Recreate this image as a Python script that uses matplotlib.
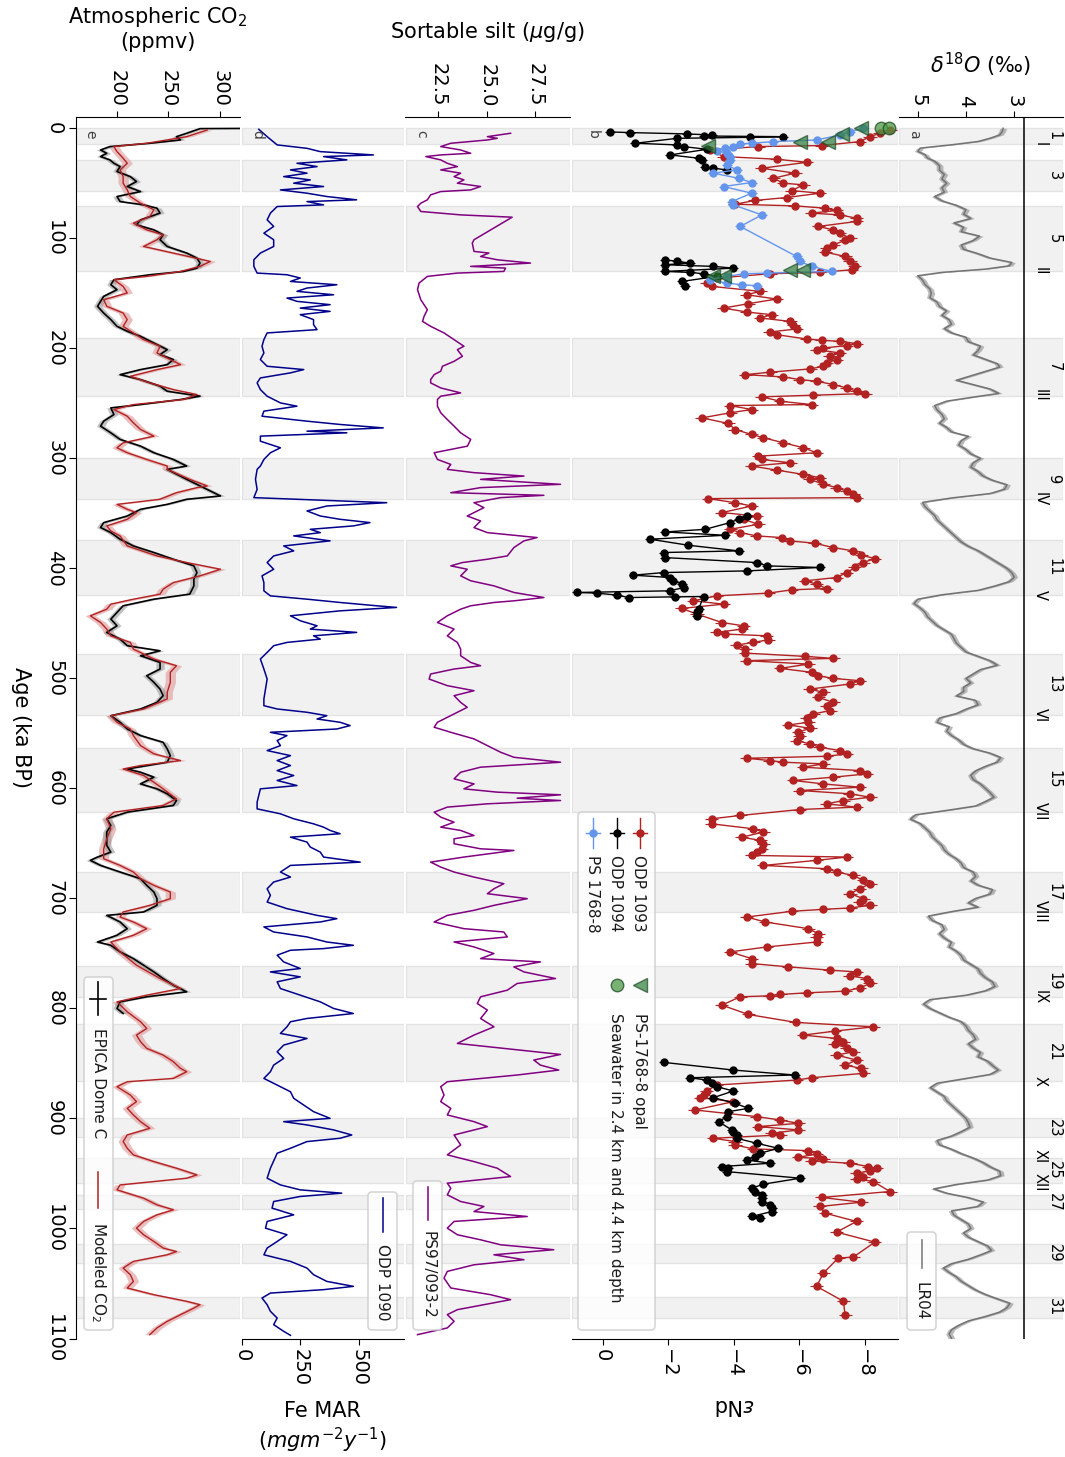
import numpy as np
import matplotlib
matplotlib.use("Agg")
import matplotlib.pyplot as plt
import matplotlib.transforms as mtransforms
from matplotlib.lines import Line2D
from matplotlib.patches import FancyBboxPatch

# ---------------------------------------------------------------- data
# interglacial bands (ka) and their labels
MIS_BANDS = [(0, 14), (29, 57), (71, 130), (191, 243), (300, 337), (374, 424),
             (478, 533), (563, 621), (676, 712), (761, 790), (814, 866),
             (900, 917), (936, 959), (970, 982), (1014, 1031), (1062, 1081)]
MIS_NUMBERS = ["1", "3", "5", "7", "9", "11", "13", "15", "17", "19", "21",
               "23", "25", "27", "29", "31"]
TERMINATIONS = [("I", 14), ("II", 130), ("III", 243), ("IV", 337), ("V", 424),
                ("VI", 533), ("VII", 621), ("VIII", 712), ("IX", 790),
                ("X", 866), ("XI", 934), ("XII", 958)]

# LR04 benthic d18O stack (age ka, permil)
LR04 = [(0, 3.23), (3, 3.25), (6, 3.3), (9, 3.5), (12, 3.75), (15, 4.3), (18, 4.95),
        (21, 5.0), (24, 4.85), (27, 4.8), (30, 4.65), (34, 4.55), (38, 4.55), (42, 4.45),
        (46, 4.5), (50, 4.4), (54, 4.5), (58, 4.45), (62, 4.65), (66, 4.5), (70, 4.2),
        (74, 4.0), (78, 4.05), (82, 3.9), (86, 4.25), (90, 4.05), (94, 4.1), (98, 3.72),
        (102, 3.85), (106, 4.1), (110, 4.05), (114, 3.75), (118, 3.5), (122, 3.05),
        (125, 3.1), (128, 3.6), (131, 4.5), (134, 5.0), (138, 4.9), (142, 4.85),
        (146, 4.75), (150, 4.72), (154, 4.75), (158, 4.6), (162, 4.55), (166, 4.4),
        (170, 4.5), (174, 4.35), (178, 4.3), (182, 4.45), (186, 4.3), (190, 4.0),
        (194, 3.95), (198, 3.7), (202, 3.75), (206, 3.85), (210, 3.6), (214, 3.35),
        (217, 3.3), (221, 3.6), (225, 3.9), (229, 4.2), (233, 3.85), (237, 3.5),
        (241, 3.32), (244, 3.8), (248, 4.4), (252, 4.65), (256, 4.6), (260, 4.5),
        (264, 4.45), (268, 4.55), (272, 4.4), (276, 4.3), (280, 3.95), (284, 4.1),
        (288, 4.15), (292, 4.0), (296, 3.9), (300, 3.7), (304, 3.85), (308, 3.9),
        (312, 3.75), (316, 3.65), (320, 3.45), (324, 3.15), (328, 3.2), (332, 3.5),
        (336, 4.3), (340, 4.9), (344, 4.85), (348, 4.75), (352, 4.65), (356, 4.6),
        (360, 4.5), (364, 4.4), (368, 4.3), (372, 4.2), (376, 4.1), (380, 3.95),
        (384, 3.75), (388, 3.6), (392, 3.45), (396, 3.3), (400, 3.15), (404, 3.05),
        (408, 3.0), (412, 3.1), (416, 3.4), (420, 3.75), (424, 4.5), (428, 5.0),
        (432, 5.08), (436, 4.95), (440, 4.85), (444, 4.8), (448, 4.7), (452, 4.6),
        (456, 4.45), (460, 4.3), (464, 4.25), (468, 4.2), (472, 4.1), (476, 4.0),
        (480, 3.75), (484, 3.5), (488, 3.35), (492, 3.7), (496, 3.85), (500, 4.0),
        (504, 3.9), (508, 4.05), (512, 4.05), (516, 4.2), (520, 3.8), (524, 3.75),
        (528, 4.0), (532, 4.2), (536, 4.55), (540, 4.6), (544, 4.35), (548, 4.4),
        (552, 4.3), (556, 4.15), (560, 4.05), (564, 3.85), (568, 3.5), (572, 3.28),
        (576, 3.35), (580, 3.6), (584, 3.8), (588, 3.9), (592, 3.85), (596, 3.7),
        (600, 3.6), (604, 3.5), (608, 3.42), (612, 3.6), (616, 3.8), (620, 4.4),
        (624, 5.05), (628, 5.15), (632, 4.95), (636, 4.85), (640, 4.75), (644, 4.7),
        (648, 4.6), (652, 4.5), (656, 4.45), (660, 4.35), (664, 4.2), (668, 4.1),
        (672, 4.05), (676, 3.85), (680, 3.8), (684, 3.9), (688, 3.75), (692, 3.45),
        (696, 3.5), (700, 3.8), (704, 3.95), (708, 3.75), (712, 4.3), (716, 4.78),
        (720, 4.7), (724, 4.5), (728, 4.45), (732, 4.55), (736, 4.45), (740, 4.3),
        (744, 4.35), (748, 4.2), (752, 4.1), (756, 4.05), (760, 3.9), (764, 3.75),
        (768, 3.7), (772, 3.6), (776, 3.45), (780, 3.4), (784, 3.6), (788, 4.0),
        (792, 4.75), (796, 4.88), (800, 4.75), (804, 4.55), (808, 4.35), (812, 4.1),
        (816, 4.0), (820, 3.95), (824, 3.85), (828, 3.8), (832, 3.95), (836, 3.85),
        (840, 3.7), (844, 3.75), (848, 3.55), (852, 3.45), (856, 3.33), (860, 3.5),
        (864, 4.05), (868, 4.6), (872, 4.74), (876, 4.6), (880, 4.45), (884, 4.4),
        (888, 4.3), (892, 4.2), (896, 4.1), (900, 4.0), (904, 3.95), (908, 3.92),
        (912, 4.1), (916, 4.3), (920, 4.6), (924, 4.55), (928, 4.3), (932, 4.1),
        (936, 3.85), (940, 3.65), (944, 3.5), (948, 3.3), (952, 3.28), (956, 3.55),
        (960, 4.2), (964, 4.67), (968, 4.4), (972, 3.95), (976, 3.64), (980, 3.75),
        (984, 4.3), (988, 4.25), (992, 4.1), (996, 3.95), (1000, 3.9), (1004, 4.05),
        (1008, 3.95), (1012, 3.75), (1016, 3.55), (1020, 3.47), (1024, 3.7),
        (1028, 3.95), (1032, 4.3), (1036, 4.47), (1040, 4.35), (1044, 4.2),
        (1048, 4.1), (1052, 3.95), (1056, 3.8), (1060, 3.6), (1064, 3.35),
        (1068, 3.09), (1072, 3.15), (1076, 3.3), (1080, 3.6), (1084, 3.95),
        (1088, 4.15), (1092, 4.3), (1096, 4.35), (1100, 4.3)]

# eNd records (age ka, eNd)
ODP1093 = [(1.5, -8.77), (4.5, -8.46), (7.6, -8.16), (12.1, -7.85), (15.7, -6.69),
           (16.6, -4.75), (19.7, -3.28), (25.7, -3.69), (28.1, -5.31), (30.9, -6.23),
           (36.3, -4.86), (40.8, -5.87), (45.4, -5.21), (49.9, -5.52), (51.4, -6.13),
           (56.6, -5.77), (59.0, -6.63), (62.9, -5.62), (65.6, -4.65), (69.0, -4.04),
           (70.5, -5.87), (72.6, -6.79), (74.7, -7.14), (77.1, -6.38), (78.7, -7.24),
           (81.7, -7.75), (84.7, -7.75), (89.2, -6.58), (92.3, -7.04), (95.3, -7.24),
           (99.8, -7.55), (101.9, -7.40), (105.9, -7.04), (108.9, -6.84), (112.5, -6.79),
           (116.5, -7.40), (121.0, -7.55), (125.5, -7.70), (128.6, -7.60), (131.0, -6.63),
           (132.2, -5.11), (136.1, -3.48), (140.7, -3.18), (143.7, -3.33), (148.2, -4.81),
           (151.3, -4.40), (155.2, -5.31), (159.4, -4.45), (163.4, -3.69), (167.0, -4.40),
           (169.4, -5.16), (172.4, -4.81), (175.5, -5.72), (178.5, -5.82), (182.4, -5.92),
           (185.1, -5.11), (187.6, -5.31), (191.5, -6.23), (192.7, -6.69), (193.6, -7.24),
           (195.7, -7.75), (197.5, -7.45), (199.7, -6.74), (201.2, -6.53), (204.2, -7.24),
           (207.2, -6.94), (210.2, -7.14), (213.3, -6.84), (216.3, -6.74), (218.7, -6.33),
           (221.7, -5.11), (223.9, -4.35), (226.0, -5.52), (228.4, -6.02), (229.9, -6.53),
           (232.9, -7.04), (236.0, -7.45), (239.0, -7.75), (241.1, -8.01), (242.6, -6.43),
           (244.1, -4.86), (248.1, -5.42), (251.1, -6.38), (252.0, -3.89), (255.6, -4.55),
           (258.6, -3.89), (263.2, -3.03), (268.3, -3.84), (273.8, -4.04), (278.3, -4.55),
           (281.3, -4.91), (285.9, -5.52), (290.4, -6.13), (294.9, -6.53), (298.0, -4.75),
           (301.0, -4.86), (304.0, -5.72), (307.0, -4.55), (310.7, -5.31), (314.6, -6.13),
           (317.6, -6.63), (319.1, -6.33), (323.6, -6.74), (326.6, -7.14), (329.7, -7.45),
           (332.7, -7.65), (335.7, -7.75), (336.6, -3.23), (340.3, -4.04), (343.3, -4.55),
           (349.3, -3.64), (352.4, -4.70), (355.4, -4.30), (359.9, -4.75), (364.5, -3.89),
           (367.5, -4.20), (370.5, -4.70), (372.0, -5.47), (375.0, -5.72), (377.2, -6.48),
           (381.1, -7.04), (384.1, -7.65), (388.0, -7.90), (391.1, -8.31), (394.7, -7.96),
           (399.2, -7.70), (403.8, -7.45), (408.3, -7.14), (411.3, -6.18), (414.4, -6.53),
           (418.3, -6.84), (419.5, -5.77), (422.5, -5.06), (425.0, -3.48), (429.5, -2.77),
           (432.5, -3.69), (436.4, -2.42), (441.6, -2.88), (449.2, -3.64), (452.2, -4.30),
           (455.2, -4.25), (458.2, -3.48), (459.7, -3.74), (461.3, -5.01), (464.9, -5.06),
           (467.3, -4.60), (469.7, -4.09), (473.4, -4.35), (477.0, -4.35), (480.0, -6.18),
           (481.8, -7.04), (483.9, -4.40), (487.0, -6.28), (490.9, -5.42), (494.5, -6.38),
           (497.6, -6.58), (500.0, -7.04), (502.1, -7.85), (505.1, -7.55), (509.7, -6.33),
           (512.7, -6.74), (517.2, -6.58), (521.8, -7.04), (524.8, -6.84), (529.3, -6.94),
           (532.3, -6.43), (536.3, -6.23), (539.9, -6.28), (542.3, -5.67), (545.3, -6.33),
           (549.0, -5.97), (552.0, -6.02), (556.5, -5.92), (559.6, -6.33), (562.6, -6.63),
           (565.6, -7.24), (568.6, -7.45), (570.8, -6.84), (572.6, -4.40), (574.7, -5.11),
           (576.2, -5.52), (577.7, -6.74), (580.7, -6.13), (583.8, -7.85), (586.8, -8.06),
           (589.8, -7.04), (592.8, -5.82), (595.9, -6.74), (598.9, -7.85), (601.9, -6.02),
           (604.9, -7.55), (608.0, -8.16), (611.0, -7.35), (614.0, -6.84), (617.0, -7.75),
           (619.2, -6.02), (624.6, -4.20), (627.6, -3.33), (632.2, -3.33), (636.7, -4.60),
           (639.7, -4.91), (644.3, -4.25), (647.3, -4.81), (650.3, -4.91), (654.9, -4.86),
           (657.9, -4.70), (660.9, -4.55), (662.4, -7.45), (665.4, -6.53), (670.0, -4.91),
           (673.0, -6.84), (676.0, -7.14), (679.1, -7.65), (683.6, -7.96), (686.6, -8.16),
           (691.2, -7.85), (695.7, -7.55), (700.2, -7.96), (703.3, -7.85), (706.3, -8.16),
           (708.7, -7.55), (709.9, -6.74), (711.7, -5.77), (716.9, -4.40), (721.4, -4.96),
           (727.5, -6.28), (732.0, -6.58), (735.0, -6.53), (739.6, -6.53), (744.1, -5.01),
           (748.6, -3.89), (754.7, -4.55), (759.2, -4.55), (762.2, -5.67), (765.2, -6.94),
           (766.8, -7.75), (770.4, -7.55), (772.8, -8.06), (777.3, -8.16), (781.3, -7.85),
           (784.3, -7.40), (785.8, -6.23), (787.3, -5.42), (788.5, -5.11), (789.4, -4.20),
           (797.0, -3.64), (805.5, -4.45), (812.7, -5.90), (816.7, -8.26), (820.6, -7.09),
           (824.2, -6.13), (827.3, -7.14), (830.3, -7.35), (832.7, -7.09), (835.7, -7.45),
           (839.4, -7.65), (842.4, -7.14), (846.9, -7.75), (851.5, -7.40), (854.5, -7.90),
           (859.0, -7.96), (863.0, -6.38), (865.1, -5.92), (869.6, -3.48), (875.0, -3.18),
           (878.7, -3.08), (881.1, -2.98), (884.7, -3.99), (892.3, -2.82), (898.3, -4.70),
           (901.4, -5.42), (904.4, -5.97), (907.4, -4.75), (910.4, -5.97), (913.5, -5.16),
           (915.0, -5.42), (918.0, -3.38), (921.0, -4.04), (924.1, -4.04), (927.7, -4.60),
           (929.2, -6.28), (932.5, -6.53), (935.2, -5.97), (936.8, -6.74), (938.6, -6.38),
           (940.7, -7.55), (943.7, -8.11), (945.2, -8.36), (947.6, -8.16), (949.8, -7.75),
           (952.8, -7.96), (954.9, -7.75), (957.3, -8.26), (966.4, -8.77), (971.8, -6.69),
           (976.1, -7.90), (980.0, -6.63), (986.1, -6.79), (993.6, -7.75), (1003.3, -7.14),
           (1012.4, -8.31), (1026.0, -7.65), (1026.9, -7.19), (1040.5, -6.74),
           (1052.6, -6.53), (1066.2, -7.35), (1078.9, -7.40)]
ODP1093_ERR = 0.2

ODP1094_SEGMENTS = [
    [(3.3, -0.23), (3.9, -0.84), (5.1, -2.57), (6.1, -3.33), (7.0, -3.08), (7.6, -5.52),
     (8.2, -4.50), (9.1, -2.27), (13.6, -1.00), (15.1, -2.27), (16.6, -2.47), (19.1, -3.18),
     (24.2, -2.06), (27.2, -2.93), (28.7, -3.03), (34.8, -3.13), (36.3, -3.38), (37.8, -3.79)],
    [(119.5, -1.91), (121.0, -2.27), (122.5, -2.67), (124.0, -1.91), (125.5, -3.38),
     (127.1, -3.99), (130.1, -1.91), (131.0, -2.67), (132.2, -3.08), (134.6, -3.48),
     (139.2, -2.42), (143.7, -2.52)],
    [(352.4, -4.40), (355.4, -4.15), (358.4, -3.89), (364.5, -3.13), (366.9, -1.91),
     (369.9, -3.74), (373.5, -1.45), (379.0, -2.62), (384.1, -4.15), (385.6, -1.86),
     (390.2, -1.91), (394.7, -4.70), (397.7, -5.01), (399.2, -6.63), (402.3, -4.40),
     (403.8, -1.86), (406.2, -0.94), (408.3, -2.06), (411.3, -2.16), (414.4, -2.42),
     (417.4, -2.47), (420.4, -2.06), (421.9, 0.78), (422.5, 0.17), (424.3, -0.44),
     (426.5, -0.79), (425.9, -2.21), (425.6, -3.08), (437.1, -2.93), (440.1, -2.88),
     (443.1, -2.88)],
    [(849.0, -1.86), (856.0, -3.99), (860.5, -5.87), (863.0, -2.67), (865.1, -3.18),
     (868.1, -3.33), (871.1, -3.48), (875.0, -3.99), (881.1, -3.38), (886.2, -4.04),
     (890.8, -4.45), (893.8, -3.84), (898.3, -3.79), (902.9, -3.54), (910.4, -3.94),
     (912.0, -3.99), (915.0, -4.09), (918.0, -4.09), (922.5, -4.70), (927.1, -5.36),
     (931.6, -4.81), (934.6, -4.65), (937.7, -4.40), (940.7, -5.11), (943.7, -3.64),
     (945.2, -3.84), (948.3, -3.79), (954.3, -6.03), (959.7, -4.91), (963.4, -4.55),
     (966.4, -4.65), (969.4, -4.86), (972.5, -4.86), (975.5, -4.86), (978.5, -5.11),
     (981.5, -5.16), (984.6, -5.16), (989.1, -4.55), (990.6, -4.81)],
]
ODP1094_ERR = 0.15

PS1768 = [(0.0, -7.96), (3.0, -7.55), (6.1, -7.24), (10.6, -6.53), (12.1, -5.21),
          (13.6, -4.55), (14.2, -4.20), (16.6, -3.99), (18.2, -3.74), (20.3, -3.48),
          (22.7, -3.79), (25.7, -3.89), (28.7, -3.89), (33.3, -3.79), (37.8, -4.09),
          (40.8, -3.38), (45.4, -4.15), (49.3, -4.55), (52.9, -3.69), (59.0, -4.55),
          (66.6, -3.94), (69.6, -3.99), (78.7, -4.86), (89.2, -4.20), (116.5, -5.92),
          (121.0, -6.02), (125.5, -6.38), (130.1, -6.99), (131.6, -5.01), (132.2, -4.30),
          (134.6, -3.79), (137.6, -3.28), (140.7, -3.79), (142.2, -4.25), (143.0, -4.70)]
PS1768_ERR = 0.15

OPAL = [(0.0, -7.90), (5.1, -7.30), (12.1, -6.89), (12.6, -6.02), (15.7, -3.23),
        (128.6, -6.13), (129.0, -5.72), (134.0, -3.69), (134.6, -3.38)]
SEAWATER = [(0.0, -8.50), (0.0, -8.75)]

# sortable silt PS97/093-2 (age ka, um)
SILT = [(4.5, 26.23), (7.6, 25.03), (9.1, 25.54), (10.6, 25.03), (13.6, 23.14), (16.6, 22.62),
        (19.7, 23.65), (22.7, 24.17), (24.2, 22.62), (25.7, 21.85), (28.7, 22.62), (31.8, 22.96),
        (34.8, 23.48), (37.8, 22.62), (40.8, 23.65), (43.9, 23.31), (46.9, 23.82), (49.9, 23.48),
        (52.9, 24.68), (56.0, 24.17), (57.5, 22.62), (60.5, 22.10), (65.0, 21.93), (68.1, 21.59),
        (71.1, 21.42), (75.6, 21.59), (78.7, 23.65), (80.8, 26.31), (92.3, 25.20), (101.3, 24.34),
        (104.4, 24.25), (111.9, 24.34), (113.4, 25.11), (116.5, 24.68), (119.5, 25.54),
        (122.5, 27.26), (125.5, 24.17), (127.1, 25.97), (130.1, 25.88), (131.6, 23.48),
        (134.6, 21.93), (140.7, 21.50), (146.7, 21.42), (155.8, 21.59), (164.9, 21.93),
        (170.9, 21.76), (175.5, 21.68), (180.0, 22.10), (186.0, 22.79), (192.1, 23.31),
        (198.1, 23.82), (201.2, 23.48), (207.2, 23.74), (211.8, 23.31), (216.3, 22.71),
        (220.8, 22.62), (223.9, 22.28), (228.4, 22.10), (231.4, 22.10), (236.0, 22.62),
        (240.5, 23.65), (243.5, 22.62), (246.5, 22.45), (252.6, 22.45), (258.6, 22.62),
        (264.7, 22.96), (270.7, 23.31), (276.8, 23.65), (282.8, 24.17), (288.9, 24.00),
        (294.9, 22.28), (301.0, 22.45), (305.5, 23.14), (310.0, 22.96), (313.0, 24.34),
        (316.1, 26.92), (319.1, 24.68), (322.1, 27.43), (323.6, 28.81), (326.6, 24.68),
        (331.2, 23.14), (333.6, 27.95), (335.7, 25.71), (340.3, 24.34), (344.8, 24.85),
        (349.3, 24.34), (352.4, 23.99), (356.9, 24.68), (362.9, 24.34), (367.5, 25.03),
        (372.0, 27.60), (375.0, 26.92), (381.1, 26.40), (388.7, 26.06), (391.7, 25.03),
        (394.7, 23.74), (397.7, 23.14), (400.8, 23.99), (406.8, 23.65), (411.3, 24.17),
        (415.9, 25.37), (421.9, 26.40), (426.5, 27.95), (429.5, 26.40), (431.0, 25.37),
        (434.0, 24.17), (437.1, 23.65), (443.1, 22.96), (449.2, 22.45), (455.2, 23.31),
        (461.3, 22.96), (467.3, 23.48), (473.4, 23.65), (479.4, 23.65), (485.5, 24.17),
        (488.5, 24.68), (491.5, 23.31), (496.0, 22.10), (500.6, 22.02), (506.6, 22.96),
        (511.2, 24.34), (515.7, 23.31), (521.8, 23.65), (526.3, 23.99), (532.3, 23.31),
        (539.9, 22.45), (544.4, 22.28), (549.0, 23.14), (555.0, 24.34), (561.1, 25.03),
        (567.1, 25.71), (571.7, 26.40), (576.2, 28.81), (580.7, 24.68), (585.3, 23.65),
        (591.3, 23.31), (595.9, 24.34), (600.4, 23.82), (603.4, 25.54), (605.8, 28.81),
        (608.9, 26.57), (611.0, 28.81), (614.0, 25.03), (617.0, 22.96), (621.6, 22.28),
        (626.1, 22.62), (630.7, 23.31), (635.2, 22.62), (638.2, 23.65), (642.8, 24.34),
        (645.8, 23.31), (650.3, 23.31), (654.9, 24.68), (656.4, 26.40), (662.4, 23.82),
        (667.0, 22.10), (671.5, 22.62), (676.0, 23.31), (680.6, 24.34), (686.6, 25.88),
        (691.2, 25.37), (695.7, 25.03), (700.2, 27.09), (706.3, 25.37), (710.8, 24.34),
        (715.4, 22.96), (721.4, 22.28), (727.5, 23.82), (730.5, 25.88), (735.0, 26.06),
        (739.6, 23.31), (744.1, 24.34), (750.1, 25.37), (754.7, 24.68), (757.7, 27.77),
        (762.2, 26.40), (766.8, 26.92), (772.8, 28.55), (777.3, 26.57), (783.4, 26.06),
        (789.4, 24.68), (795.5, 24.51), (801.5, 25.03), (809.1, 24.68), (816.7, 25.37),
        (824.2, 24.34), (831.8, 23.48), (836.3, 25.88), (841.8, 28.81), (846.9, 27.43),
        (851.5, 27.77), (856.0, 28.72), (860.5, 26.57), (866.6, 22.96), (871.1, 22.62),
        (878.7, 22.79), (884.7, 22.62), (890.8, 23.14), (896.8, 22.96), (902.9, 24.34),
        (907.4, 25.03), (915.0, 23.31), (924.1, 23.65), (933.1, 22.96), (939.2, 24.34),
        (945.2, 25.54), (952.8, 26.23), (958.8, 22.96), (963.4, 23.14), (969.4, 22.96),
        (975.5, 23.65), (980.0, 24.85), (984.6, 24.34), (989.1, 27.09), (993.6, 23.31),
        (999.7, 22.96), (1005.7, 23.48), (1010.3, 24.68), (1014.8, 25.71), (1019.3, 28.46),
        (1023.9, 25.37), (1028.4, 26.92), (1033.0, 24.34), (1039.0, 22.96), (1045.1, 22.79),
        (1054.1, 23.14), (1060.2, 25.20), (1064.7, 26.23), (1069.3, 24.85), (1073.8, 23.48),
        (1078.3, 22.96), (1084.4, 23.31), (1090.4, 22.96), (1096.5, 21.42)]

# Fe mass accumulation rate ODP 1090 (age ka, mg m-2 yr-1)
FE_MAR = [(0.9, 71), (7.6, 107), (15.1, 150), (18.2, 278), (21.2, 335), (24.2, 563),
          (25.7, 349), (28.7, 449), (31.8, 235), (34.8, 321), (37.8, 207), (40.8, 278),
          (43.9, 178), (46.9, 292), (49.9, 221), (52.9, 349), (56.0, 164), (59.0, 278),
          (62.0, 363), (65.0, 491), (66.6, 278), (69.6, 349), (71.1, 150), (77.1, 121),
          (83.2, 107), (89.2, 135), (95.3, 93), (101.3, 135), (107.4, 135), (113.4, 78),
          (119.5, 50), (125.5, 50), (131.6, 64), (133.1, 192), (136.1, 249), (139.2, 207),
          (142.2, 406), (145.2, 278), (148.2, 235), (151.3, 392), (154.3, 192), (157.3, 235),
          (160.3, 377), (163.4, 249), (166.4, 377), (169.4, 249), (173.9, 306), (178.5, 306),
          (183.0, 321), (186.0, 107), (192.1, 93), (198.1, 85), (204.2, 93), (210.2, 78),
          (216.3, 107), (219.3, 264), (222.3, 207), (226.9, 78), (231.4, 64), (237.5, 78),
          (243.5, 107), (249.6, 164), (252.6, 235), (257.1, 93), (261.7, 85), (266.2, 278),
          (269.2, 420), (272.3, 605), (275.3, 278), (276.8, 449), (279.8, 78), (284.4, 78),
          (290.4, 164), (294.9, 121), (301.0, 93), (307.0, 78), (310.0, 64), (319.1, 57),
          (328.2, 64), (335.7, 50), (340.3, 620), (343.3, 363), (347.8, 278), (352.4, 335),
          (355.4, 420), (358.4, 548), (361.4, 477), (364.5, 292), (367.5, 335), (370.5, 221),
          (375.0, 377), (379.6, 178), (384.1, 221), (388.7, 135), (394.7, 107), (400.8, 135),
          (406.8, 85), (412.9, 93), (420.4, 93), (425.0, 121), (428.0, 278), (431.0, 420),
          (434.0, 577), (435.5, 662), (438.6, 420), (443.1, 207), (447.6, 249), (452.2, 321),
          (455.2, 292), (458.2, 491), (461.3, 306), (464.3, 335), (467.3, 192), (470.3, 135),
          (474.9, 114), (482.4, 78), (491.5, 93), (500.6, 107), (509.7, 100), (518.7, 93),
          (524.8, 93), (527.8, 150), (530.8, 278), (533.9, 363), (536.9, 321), (539.9, 420),
          (542.9, 463), (546.0, 406), (549.0, 121), (552.0, 192), (556.5, 150), (561.1, 164),
          (565.6, 107), (570.2, 207), (574.7, 150), (579.2, 207), (583.8, 150), (588.3, 221),
          (592.8, 150), (597.4, 235), (600.4, 78), (606.5, 71), (612.5, 64), (618.6, 64),
          (623.1, 164), (627.6, 221), (632.2, 306), (635.2, 349), (638.2, 377), (641.2, 420),
          (644.3, 207), (648.8, 278), (653.3, 292), (657.9, 335), (662.4, 349), (667.0, 506),
          (670.0, 207), (676.0, 164), (680.6, 207), (685.1, 135), (691.2, 107), (697.2, 121),
          (703.3, 107), (709.3, 192), (715.4, 321), (718.4, 406), (721.4, 335), (725.9, 93),
          (730.5, 135), (735.0, 278), (739.6, 363), (742.6, 477), (745.6, 349), (747.1, 207),
          (751.6, 150), (757.7, 178), (763.7, 249), (766.8, 121), (771.3, 249), (775.8, 150),
          (781.9, 164), (787.9, 249), (794.0, 335), (800.0, 392), (804.6, 477), (809.1, 278),
          (812.1, 207), (816.7, 192), (822.7, 164), (827.3, 278), (833.3, 178), (839.4, 150),
          (845.4, 178), (851.5, 135), (857.5, 121), (863.6, 93), (869.6, 150), (875.7, 207),
          (881.7, 221), (887.8, 264), (893.8, 306), (899.9, 377), (902.9, 178), (905.9, 278),
          (910.4, 392), (915.0, 470), (918.0, 420), (921.0, 278), (927.1, 207), (931.6, 150),
          (945.2, 121), (954.3, 107), (960.4, 164), (964.9, 249), (967.9, 427), (970.9, 249),
          (975.5, 135), (981.5, 128), (987.6, 221), (993.6, 107), (999.7, 100), (1005.7, 192),
          (1011.8, 150), (1017.8, 107), (1023.9, 93), (1029.9, 207), (1036.0, 278),
          (1042.0, 306), (1048.1, 363), (1052.6, 477), (1055.6, 349), (1058.7, 121),
          (1063.2, 85), (1069.3, 107), (1075.3, 121), (1081.4, 150), (1087.4, 135),
          (1093.5, 178), (1097.1, 207)]

# atmospheric CO2 (age ka, ppmv)
EPICA = [(-0.05, 368), (0.3, 281), (4.5, 268), (7.6, 258), (10.6, 262), (13.6, 232),
         (16.6, 193), (19.7, 184), (22.7, 190), (25.7, 184), (28.7, 193), (31.8, 197),
         (34.8, 203), (39.3, 200), (43.9, 213), (48.4, 219), (52.9, 210), (57.5, 223),
         (62.0, 200), (66.6, 203), (69.6, 226), (72.6, 239), (77.1, 242), (83.2, 223),
         (87.7, 219), (92.3, 236), (96.8, 245), (101.3, 242), (107.4, 249), (113.4, 268),
         (118.0, 278), (122.5, 281), (127.1, 278), (130.1, 265), (133.1, 232), (137.6, 197),
         (142.2, 194), (146.7, 200), (152.8, 187), (157.3, 184), (161.8, 181), (167.9, 187),
         (173.9, 194), (180.0, 200), (184.5, 210), (189.1, 223), (195.1, 236), (201.2, 249),
         (205.7, 242), (210.2, 255), (214.8, 249), (219.3, 223), (223.9, 203), (228.4, 223),
         (234.4, 242), (239.0, 249), (243.5, 281), (246.5, 262), (251.1, 223), (254.1, 194),
         (260.2, 197), (266.2, 187), (270.7, 184), (276.8, 194), (282.8, 203), (288.9, 223),
         (294.9, 236), (301.0, 255), (307.0, 268), (310.0, 249), (319.1, 268), (328.2, 288),
         (334.2, 301), (337.2, 268), (341.8, 249), (346.3, 223), (352.4, 210), (358.4, 187),
         (362.9, 184), (367.5, 194), (373.5, 203), (379.6, 216), (385.6, 236), (391.7, 255),
         (397.7, 275), (403.8, 278), (409.8, 275), (415.9, 275), (423.4, 271), (428.0, 236),
         (434.0, 206), (440.1, 200), (446.1, 194), (452.2, 200), (458.2, 190), (464.3, 203),
         (470.3, 210), (474.9, 242), (479.4, 223), (485.5, 242), (491.5, 242), (497.6, 229),
         (503.6, 236), (509.7, 242), (515.7, 245), (521.8, 239), (527.8, 223), (533.9, 194),
         (539.9, 203), (546.0, 210), (552.0, 223), (558.1, 245), (564.1, 249), (570.2, 252),
         (576.2, 249), (582.3, 210), (585.3, 223), (589.8, 236), (595.9, 223), (600.4, 239),
         (604.9, 249), (611.0, 258), (615.5, 255), (621.6, 210), (627.6, 190), (633.7, 194),
         (639.7, 190), (645.8, 190), (651.8, 190), (657.9, 194), (662.4, 181), (665.4, 174),
         (670.0, 184), (676.0, 203), (682.1, 223), (688.1, 229), (694.2, 236), (700.2, 239),
         (706.3, 239), (712.3, 226), (715.4, 190), (721.4, 203), (727.5, 210), (733.5, 200),
         (739.6, 181), (742.6, 194), (748.6, 203), (754.7, 216), (760.7, 226), (766.8, 236),
         (772.8, 245), (778.9, 255), (784.9, 268), (789.4, 229), (794.0, 203), (800.0, 200),
         (804.6, 206)]
EPICA_ERR = 4

MODELED_CO2 = [(1.5, 288), (7.6, 268), (13.6, 229), (16.6, 197), (21.2, 200), (27.2, 206),
               (31.8, 210), (37.8, 203), (43.9, 206), (49.9, 206), (56.0, 210), (62.0, 213),
               (68.1, 223), (74.1, 236), (80.2, 232), (86.2, 216), (92.3, 229), (96.8, 245),
               (101.3, 239), (107.4, 226), (113.4, 255), (121.0, 291), (125.5, 281),
               (130.1, 262), (134.6, 229), (137.6, 197), (143.7, 206), (149.7, 210),
               (155.8, 187), (161.8, 190), (167.9, 206), (173.9, 210), (180.0, 206),
               (186.0, 216), (192.1, 226), (198.1, 242), (204.2, 239), (210.2, 252),
               (214.8, 262), (219.3, 239), (225.4, 213), (231.4, 232), (237.5, 255),
               (242.0, 278), (246.5, 265), (251.1, 216), (255.6, 197), (261.7, 210),
               (267.7, 216), (273.8, 223), (279.8, 236), (285.9, 206), (290.4, 200),
               (294.9, 210), (301.0, 229), (307.0, 249), (310.0, 249), (319.1, 271),
               (325.1, 288), (326.6, 278), (331.2, 258), (337.2, 242), (341.8, 200),
               (346.3, 210), (349.3, 219), (355.4, 210), (361.4, 190), (366.0, 194),
               (370.5, 203), (379.6, 210), (388.7, 239), (394.7, 268), (400.8, 301),
               (406.8, 281), (412.9, 255), (418.9, 245), (423.4, 242), (428.0, 216),
               (432.5, 194), (437.1, 190), (443.1, 174), (449.2, 184), (455.2, 190),
               (461.3, 194), (467.3, 213), (473.4, 216), (482.4, 236), (488.5, 258),
               (494.5, 252), (503.6, 252), (512.7, 249), (518.7, 249), (527.8, 226),
               (533.9, 194), (539.9, 200), (546.0, 213), (552.0, 216), (561.1, 223),
               (568.6, 236), (574.7, 262), (579.2, 223), (582.3, 206), (588.3, 226),
               (594.4, 236), (600.4, 245), (609.5, 258), (615.5, 245), (621.6, 197),
               (627.6, 190), (636.7, 194), (645.8, 190), (654.9, 187), (663.9, 187),
               (670.0, 203), (676.0, 216), (682.1, 223), (688.1, 236), (694.2, 252),
               (700.2, 252), (706.3, 232), (712.3, 206), (716.9, 203), (721.4, 216),
               (727.5, 229), (733.5, 216), (739.6, 194), (748.6, 203), (760.7, 219),
               (772.8, 242), (781.9, 262), (787.9, 229), (794.0, 200), (803.1, 210),
               (812.1, 223), (818.2, 229), (824.2, 219), (830.3, 223), (836.3, 229),
               (842.4, 245), (848.4, 255), (854.5, 262), (857.5, 268), (863.6, 255),
               (866.6, 210), (871.1, 200), (878.7, 213), (884.7, 219), (890.8, 210),
               (896.8, 216), (902.9, 223), (908.9, 232), (915.0, 210), (921.0, 206),
               (927.1, 210), (933.1, 216), (939.2, 236), (945.2, 258), (951.3, 278),
               (954.3, 268), (960.4, 203), (964.9, 200), (972.5, 226), (978.5, 239),
               (983.0, 255), (987.6, 239), (993.6, 226), (999.7, 219), (1005.7, 226),
               (1011.8, 236), (1017.8, 245), (1020.9, 258), (1023.9, 249), (1029.9, 216),
               (1036.0, 206), (1042.0, 213), (1048.1, 216), (1054.1, 210), (1060.2, 236),
               (1066.2, 268), (1069.3, 281), (1072.3, 275), (1078.3, 262), (1084.4, 249),
               (1090.4, 239), (1096.5, 232)]
MODELED_ERR = 5


def cols(pairs):
    arr = np.array(pairs, dtype=float)
    return arr[:, 0], arr[:, 1]


# ---------------------------------------------------------------- layout
W, H = 1065, 1457
TOP, BOTTOM = 117.3, 1338.5
plt.rcParams['font.family'] = 'DejaVu Sans'

fig = plt.figure(figsize=(W / 100, H / 100), dpi=100)


def add_panel(x0, x1):
    return fig.add_axes([x0 / W, 1 - BOTTOM / H, (x1 - x0) / W, (BOTTOM - TOP) / H])


ax_e = add_panel(76, 240)
ax_d = add_panel(241.5, 404)
ax_c = add_panel(405.5, 570)
ax_b = add_panel(571.5, 897.5)
ax_a = add_panel(899, 1063)

for ax in (ax_a, ax_b, ax_c, ax_d, ax_e):
    ax.set_ylim(1100, -10)
    for a0, a1 in MIS_BANDS:
        ax.axhspan(a0, a1, facecolor='#f1f1f1', edgecolor='#e3e3e3', lw=1, zorder=0)
    for s in ax.spines.values():
        s.set_visible(False)
    ax.set_yticks([])
    ax.tick_params(axis='x', labelrotation=-90, labelsize=14, length=4)

# panel a: LR04
age, val = cols(LR04)
ax_a.fill_betweenx(age, val - 0.07, val + 0.07, color='0.55', alpha=0.6, lw=0, zorder=2)
ax_a.plot(val, age, color='0.45', lw=1.1, zorder=3)
ax_a.axvline(2.8, color='black', lw=1.1)
ax_a.set_xlim(5.39, 1.99)
ax_a.xaxis.tick_top()
ax_a.set_xticks([5, 4, 3])
ax_a.spines['top'].set_visible(True)
ax_a.set_xlabel(r'$\delta^{18}O$ (‰)', fontsize=15)
ax_a.xaxis.set_label_position('top')
ax_a.xaxis.label.set_va('center')
ax_a.xaxis.set_label_coords(0.5, 1.0428)

mis_tr = mtransforms.blended_transform_factory(ax_a.transAxes, ax_a.transData)
for (a0, a1), num in zip(MIS_BANDS, MIS_NUMBERS):
    ax_a.text(0.945, (a0 + a1) / 2, num, transform=mis_tr, rotation=-90,
              ha='center', va='center', fontsize=10.5)
for name, a in TERMINATIONS:
    ax_a.text(0.86, a, name, transform=mis_tr, rotation=-90,
              ha='center', va='center', fontsize=10.5)

# panel b: eNd
age, val = cols(ODP1093)
ax_b.errorbar(val, age, xerr=ODP1093_ERR, fmt='-o', color='firebrick', ms=5,
              lw=1.0, elinewidth=0.8, capsize=0, zorder=3)
for seg in ODP1094_SEGMENTS:
    age, val = cols(seg)
    ax_b.errorbar(val, age, xerr=ODP1094_ERR, fmt='-o', color='black', ms=5,
                  lw=1.0, elinewidth=0.8, capsize=0, zorder=4)
age, val = cols(PS1768)
ax_b.errorbar(val, age, xerr=PS1768_ERR, fmt='-o', color='cornflowerblue', ms=5,
              lw=1.0, elinewidth=0.8, capsize=0, zorder=5)
age, val = cols(OPAL)
ax_b.plot(val, age, ls='none', marker='<', ms=10, mfc='#2f7d3c', mec='#1b4a22',
          alpha=0.7, zorder=6)
age, val = cols(SEAWATER)
ax_b.plot(val, age, ls='none', marker='o', ms=9, mfc='#4f9a45', mec='#1b4a22',
          alpha=0.75, zorder=6)
ax_b.set_xlim(0.95, -9.0)
ax_b.set_xticks([0, -2, -4, -6, -8])
ax_b.spines['bottom'].set_visible(True)
ax_b.set_xlabel(r'$\varepsilon$Nd', fontsize=15, rotation=180)
ax_b.xaxis.label.set_va('center')
ax_b.xaxis.set_label_coords(0.5, -0.0545)

# panel c: sortable silt
age, val = cols(SILT)
ax_c.plot(val, age, color='purple', lw=1.1)
ax_c.set_xlim(20.8, 29.3)
ax_c.xaxis.tick_top()
ax_c.set_xticks([22.5, 25.0, 27.5])
ax_c.spines['top'].set_visible(True)
ax_c.set_xlabel(r'Sortable silt ($\mu$g/g)', fontsize=15)
ax_c.xaxis.set_label_position('top')
ax_c.xaxis.label.set_va('center')
ax_c.xaxis.set_label_coords(0.5, 1.0698)

# panel d: Fe MAR
age, val = cols(FE_MAR)
ax_d.plot(val, age, color='darkblue', lw=1.1)
ax_d.set_xlim(-3, 694)
ax_d.set_xticks([0, 250, 500])
ax_d.spines['bottom'].set_visible(True)
ax_d.set_xlabel('Fe MAR\n' + r'$(mgm^{-2}y^{-1})$', fontsize=15)
ax_d.xaxis.label.set_va('center')
ax_d.xaxis.set_label_coords(0.5, -0.0733)

# panel e: CO2
age, val = cols(MODELED_CO2)
ax_e.fill_betweenx(age, val - MODELED_ERR, val + MODELED_ERR, color='#e3a9a9',
                   alpha=0.75, lw=0, zorder=2)
ax_e.plot(val, age, color='firebrick', lw=1.0, zorder=4)
age, val = cols(EPICA)
ax_e.fill_betweenx(age, val - EPICA_ERR, val + EPICA_ERR, color='0.6', alpha=0.6,
                   lw=0, zorder=2)
ax_e.plot(val, age, color='black', lw=1.2, zorder=3)
ax_e.set_xlim(160, 320)
ax_e.xaxis.tick_top()
ax_e.set_xticks([200, 250, 300])
ax_e.spines['top'].set_visible(True)
ax_e.spines['left'].set_visible(True)
ax_e.set_xlabel('Atmospheric CO$_2$\n(ppmv)', fontsize=15)
ax_e.xaxis.set_label_position('top')
ax_e.xaxis.label.set_va('center')
ax_e.xaxis.set_label_coords(0.5, 1.0727)
age_ticks = list(range(0, 1101, 100))
ax_e.set_yticks(age_ticks, labels=[str(t) for t in age_ticks], rotation=-90,
                va='center', fontsize=14)
ax_e.tick_params(axis='y', length=5)
ax_e.set_ylabel('Age (ka BP)', fontsize=15, rotation=-90, va='center', ha='center')
ax_e.yaxis.set_label_coords(-0.335, 0.5)


# ---------------------------------------------------------------- legends (rotated)
def inch(x, y):
    return x / 100, (H - y) / 100


def legend_frame(x0, y0, x1, y1):
    fig.add_artist(FancyBboxPatch(inch(x0, y1), (x1 - x0) / 100, (y1 - y0) / 100,
                                  boxstyle='round,pad=0,rounding_size=0.04',
                                  transform=fig.dpi_scale_trans, facecolor='white',
                                  edgecolor='0.8', lw=1.2, alpha=0.8, zorder=10))


def legend_handle(x, y0, y1, color, lw=1.0, bar=0, marker=None, ms=5):
    xs, ys = zip(inch(x, y0), inch(x, y1))
    fig.add_artist(Line2D(xs, ys, transform=fig.dpi_scale_trans, color=color, lw=lw, zorder=11))
    ym = (y0 + y1) / 2
    if bar:
        xs, ys = zip(inch(x - bar, ym), inch(x + bar, ym))
        fig.add_artist(Line2D(xs, ys, transform=fig.dpi_scale_trans, color=color, lw=lw, zorder=11))
    if marker:
        mx, my = inch(x, ym)
        fig.add_artist(Line2D([mx], [my], transform=fig.dpi_scale_trans, ls='none',
                              marker=marker, color=color, ms=ms, zorder=11))


def legend_marker(x, y, marker, ms, fc, ec, alpha):
    mx, my = inch(x, y)
    fig.add_artist(Line2D([mx], [my], transform=fig.dpi_scale_trans, ls='none', marker=marker,
                          ms=ms, mfc=fc, mec=ec, alpha=alpha, zorder=11))


def legend_text(x, y, s):
    fig.text(*inch(x, y), s, transform=fig.dpi_scale_trans, rotation=-90,
             ha='center', va='top', fontsize=11, color='0.1', zorder=12)


# panel a
legend_frame(907, 1232, 936, 1330)
legend_handle(921.5, 1240, 1268, '0.5', lw=1.2)
legend_text(921.5, 1282, 'LR04')

# panel b
legend_frame(578, 812, 655, 1330)
legend_handle(640, 818, 848, 'firebrick', bar=7, marker='o')
legend_handle(616.5, 818, 848, 'black', bar=7, marker='o')
legend_handle(593, 818, 848, 'cornflowerblue', bar=7, marker='o')
legend_text(639, 855, 'ODP 1093')
legend_text(615.5, 855, 'ODP 1094')
legend_text(592, 855, 'PS 1768-8')
legend_marker(640, 985, '<', 10, '#2f7d3c', '#1b4a22', 0.7)
legend_marker(616.5, 985, 'o', 9, '#4f9a45', '#1b4a22', 0.75)
legend_text(639, 1013, 'PS-1768-8 opal')
legend_text(615.5, 1013, 'Seawater in 2.4 km and 4.4 km depth')

# panel c
legend_frame(413, 1181, 442, 1330)
legend_handle(428, 1187, 1220, 'purple', lw=1.1)
legend_text(428, 1231, 'PS97/093-2')

# panel d
legend_frame(368, 1192, 397, 1330)
legend_handle(383, 1198, 1232, 'darkblue', lw=1.1)
legend_text(383, 1244, 'ODP 1090')

# panel e
legend_frame(84, 977, 113, 1330)
legend_handle(98, 982, 1015, 'black', lw=1.2, bar=8)
legend_text(98, 1028, 'EPICA Dome C')
legend_handle(98, 1172, 1208, 'firebrick', lw=1.1)
legend_text(98, 1222, 'Modeled CO$_2$')

# panel letters
for letter, x in (('a', 914), ('b', 593), ('c', 421), ('d', 257), ('e', 90)):
    fig.text(*inch(x, 134), letter, transform=fig.dpi_scale_trans, rotation=-90,
             ha='center', va='center', fontsize=10, color='0.25')

fig.savefig('out.png', dpi=100)
